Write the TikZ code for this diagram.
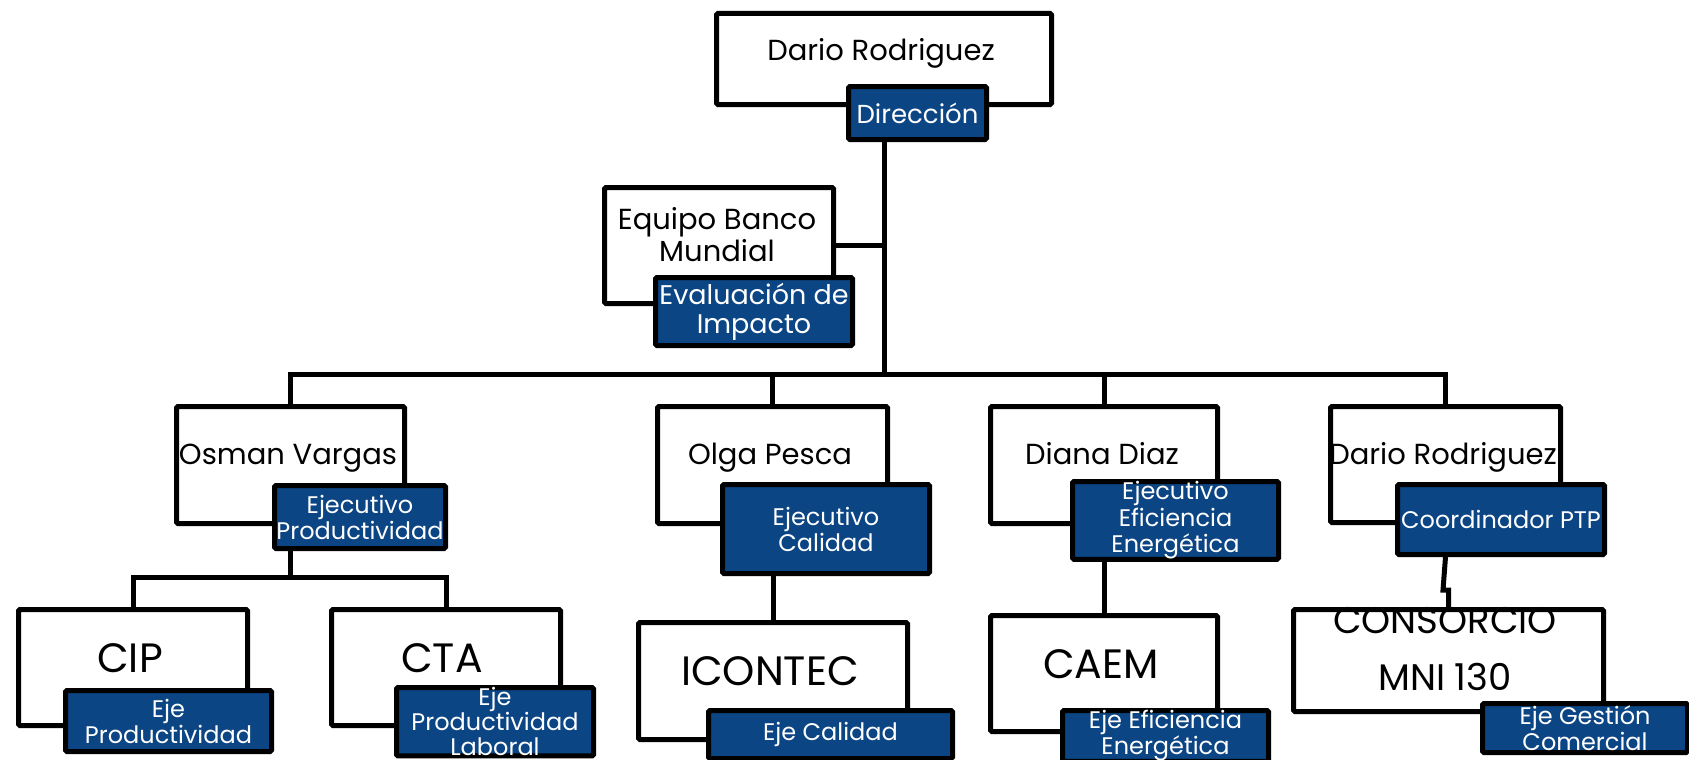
\documentclass[tikz,border=0pt]{standalone}
\usepackage{fontspec}
\setmainfont{Poppins}
\definecolor{bluebox}{RGB}{11,69,132}
\begin{document}
\begin{tikzpicture}[x=1pt,y=-1pt,
  wbox/.style={draw=black, line width=5pt, fill=white, rounded corners=1.5pt, inner sep=0pt, anchor=north west},
  bbox/.style={draw=black, line width=5pt, fill=bluebox, text=white, rounded corners=1.5pt, inner sep=0pt, anchor=north west, align=center, font=\fontsize{24}{26}\selectfont},
  nametxt/.style={font=\fontsize{29}{32}\selectfont, align=center, inner sep=0pt, anchor=base},
  bigtxt/.style={font=\fontsize{41}{44}\selectfont, inner sep=0pt, anchor=base},
  conn/.style={draw=black, line width=5pt, line join=miter}]
\useasboundingbox[fill=white] (0,0) rectangle (1689,760);

% white boxes
\node[wbox, minimum width=335pt, minimum height=91pt] (top) at (714,11) {};
\node[wbox, minimum width=229pt, minimum height=116pt] (equipo) at (602,185) {};
\node[wbox, minimum width=228pt, minimum height=117pt] (osman) at (174,404) {};
\node[wbox, minimum width=230pt, minimum height=117pt] (olga) at (655,404) {};
\node[wbox, minimum width=227pt, minimum height=117pt] (diana) at (988,404) {};
\node[wbox, minimum width=230pt, minimum height=116pt] (dario) at (1328,404) {};
\node[wbox, minimum width=229pt, minimum height=116pt] (cip) at (16,607) {};
\node[wbox, minimum width=229pt, minimum height=116pt] (cta) at (329,607) {};
\node[wbox, minimum width=269pt, minimum height=117pt] (icontec) at (636,620) {};
\node[wbox, minimum width=227pt, minimum height=116pt] (caem) at (988,613) {};
\node[wbox, minimum width=310pt, minimum height=102pt] (cons) at (1291,607) {};

% blue boxes
\node[bbox, minimum width=138pt, minimum height=53pt, font=\fontsize{26}{28}\selectfont] (dir) at (846,84) {Dirección};
\node[bbox, minimum width=197pt, minimum height=68pt, font=\fontsize{27}{29}\selectfont] (eval) at (653,275) {Evaluación de\\Impacto};
\node[bbox, minimum width=171pt, minimum height=63pt] (osb) at (272,483) {Ejecutivo\\Productividad};
\node[bbox, minimum width=207pt, minimum height=89pt] (olgab) at (720,482) {Ejecutivo\\Calidad};
\node[bbox, minimum width=206pt, minimum height=73pt, font=\fontsize{24}{26.5}\selectfont] (dianab) at (1070,479) {Ejecutivo\\Eficiencia\\Energética};
\node[bbox, minimum width=207pt, minimum height=70pt] (coord) at (1395,482) {Coordinador PTP};
\node[bbox, minimum width=206pt, minimum height=61pt] (cipb) at (63,688) {Eje\\Productividad};
\node[bbox, minimum width=197pt, minimum height=68pt, font=\fontsize{24}{25}\selectfont] (ctab) at (394,685) {Eje\\Productividad\\Laboral};
\node[bbox, minimum width=244pt, minimum height=48pt] (icb) at (706,708) {Eje Calidad};
\node[bbox, minimum width=206pt, minimum height=48pt] (caemb) at (1060,708) {Eje Eficiencia\\Energética};
\node[bbox, minimum width=205pt, minimum height=49pt] (gest) at (1480,701) {Eje Gestión\\Comercial};

% connectors
\coordinate (bus) at (881,374);
\coordinate (sub) at (288,577);
\coordinate (kink) at (1443,590);
\draw[conn] (top.south |- dir.south) -- (top.south |- bus);
\draw[conn] (equipo.east) -- (equipo.east -| top.south);
\draw[conn] (osman.north) -- (osman.north |- bus) -- (dario.north |- bus) -- (dario.north);
\draw[conn] (olga.north |- bus) -- (olga.north);
\draw[conn] (diana.north |- bus) -- (diana.north);
\draw[conn] (osman.south |- osb.south) -- (osman.south |- sub);
\draw[conn] (cip.north) -- (cip.north |- sub) -- (cta.north |- sub) -- (cta.north);
\draw[conn] (icontec.north |- olgab.south) -- (icontec.north);
\draw[conn] (caem.north |- dianab.south) -- (caem.north);
\draw[conn] (dario.south |- coord.south) -- (kink) -- (kink -| cons.north) -- (cons.north);

% texts in white boxes
\node[nametxt] (ttop) at (881,60) {Dario Rodriguez};
\node[nametxt, anchor=center] (tequipo) at (717,235) {Equipo Banco\\Mundial};
\node[nametxt] (tosman) at (288,464) {Osman Vargas};
\node[nametxt] (tolga) at (770,464) {Olga Pesca};
\node[nametxt] (tdiana) at (1102,464) {Diana Diaz};
\node[nametxt] (tdario) at (1443,464) {Dario Rodriguez};
\node[bigtxt] (tcip) at (130,672) {CIP};
\node[bigtxt] (tcta) at (442,672) {CTA};
\node[bigtxt] (ticontec) at (770,685) {ICONTEC};
\node[bigtxt] (tcaem) at (1101,678) {CAEM};
\node[font=\fontsize{37}{57}\selectfont, align=center, inner sep=0pt] (tcons) at (1445,649) {CONSORCIO\\MNI 130};
\end{tikzpicture}
\end{document}
